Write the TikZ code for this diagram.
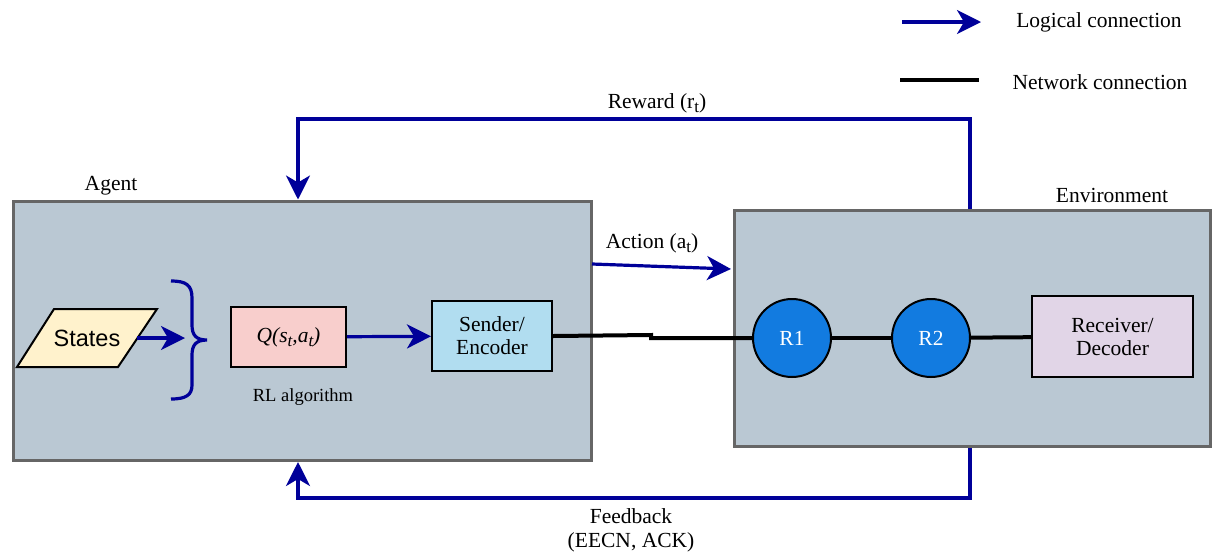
\documentclass[tikz,border=0pt]{standalone}
\usepackage{fontspec}
\setmainfont{Liberation Serif}
\newfontfamily\arialf{Liberation Sans}
\usetikzlibrary{arrows.meta}
\definecolor{lblue}{HTML}{000099}
\definecolor{boxgray}{HTML}{666666}
\definecolor{contfill}{HTML}{BAC8D3}
\definecolor{statefill}{HTML}{FFF2CC}
\definecolor{qfill}{HTML}{F8CECC}
\definecolor{sendfill}{HTML}{B1DDF0}
\definecolor{recvfill}{HTML}{E1D5E7}
\definecolor{rfill}{HTML}{127BE0}
\newcommand{\mysub}[1]{\raisebox{-0.45ex}{\fontsize{17}{17}\selectfont #1}}
\begin{document}
\begin{tikzpicture}[x=1pt,y=-1pt,
  font=\fontsize{21.5}{25}\selectfont,
  cont/.style={draw=boxgray, line width=3.5pt, fill=contfill, inner sep=0pt},
  box/.style={draw=black, line width=2pt, inner sep=0pt, align=center},
  router/.style={draw=black, line width=2pt, circle, fill=rfill, minimum size=78pt, inner sep=0pt, text=white},
  logic/.style={draw=lblue, line width=3.2pt, -{Stealth[length=24pt,width=24pt,inset=7pt]}},
  net/.style={draw=black, line width=4pt},
  lbl/.style={inner sep=0pt, align=center},
]
\useasboundingbox (0,0) rectangle (1212,558);

% containers
\node[cont, minimum width=578, minimum height=259, anchor=north west] (agent) at (11.5,199.5) {};
\node[cont, minimum width=476, minimum height=236, anchor=north west] (env) at (732.5,208.5) {};
\node[lbl] (agentlbl) at (111,186) {Agent};
\node[lbl] (envlbl) at (1112,195) {Environment};

% states parallelogram
\filldraw[draw=black, line width=2pt, fill=statefill] (54,309) -- (157,309) -- (118,367) -- (17,367) -- cycle;
\node[lbl, font=\arialf\fontsize{23.5}{27}\selectfont] (states) at (87,338) {States};
\coordinate (statesout) at (137,338);
\coordinate (bracein) at (185,338);
\draw[logic] (statesout) -- (bracein);

% brace
\draw[draw=lblue, line width=3.2pt] (171,281) .. controls (186,281) and (192,285) .. (192,298) -- (192,325)
  .. controls (192,335) and (196,340) .. (207,340)
  .. controls (196,340) and (192,345) .. (192,355) -- (192,385)
  .. controls (192,395) and (186,399) .. (171,399);

% Q node
\node[box, fill=qfill, minimum width=115pt, minimum height=60pt] (q) at (288.5,337) {\textit{Q(s\mysub{t},a\mysub{t})}};
\node[lbl, font=\fontsize{18.5}{22}\selectfont] (rl) at (303,397) {RL algorithm};

% sender
\node[box, fill=sendfill, minimum width=120pt, minimum height=70pt] (send) at (492,336) {Sender/\\[-2pt]Encoder};
\draw[logic] (q) -- (send);

% routers and receiver
\node[router] (r1) at (792,338) {R1};
\node[router] (r2) at (931,338) {R2};
\node[box, fill=recvfill, minimum width=161pt, minimum height=81pt] (recv) at (1112.5,336.5) {Receiver/\\[-2pt]Decoder};

\coordinate (stepa) at (651,335);
\coordinate (stepb) at (651,338);
\draw[net] (send.east) -- (stepa) -- (stepb) -- (r1.west);
\draw[net] (r1) -- (r2);
\draw[net] (r2) -- (recv);

% action
\coordinate (actfrom) at (592,264);
\coordinate (actto) at (731,269);
\draw[logic] (actfrom) -- (actto);
\node[lbl] (actlbl) at (652,243) {Action (a\mysub{t})};

% reward
\coordinate (rw1) at (970,119);
\coordinate (rw2) at (298,119);
\draw[logic] (env.north -| rw1) -- (rw1) -- (rw2) -- (agent.north -| rw2);
\node[lbl] (rwlbl) at (657,103) {Reward (r\mysub{t})};

% feedback
\coordinate (fb1) at (970,498);
\coordinate (fb2) at (298,498);
\draw[logic] (env.south -| fb1) -- (fb1) -- (fb2) -- (agent.south -| fb2);
\node[lbl] (fblbl) at (631,530) {Feedback\\[-1pt](EECN, ACK)};

% legend
\coordinate (lg1) at (902,22);
\coordinate (lg2) at (981,22);
\draw[logic] (lg1) -- (lg2);
\node[lbl] (lglbl) at (1099,22) {Logical connection};
\coordinate (ln1) at (900,80);
\coordinate (ln2) at (979,80);
\draw[net] (ln1) -- (ln2);
\node[lbl] (lnlbl) at (1100,82) {Network connection};
\end{tikzpicture}
\end{document}
